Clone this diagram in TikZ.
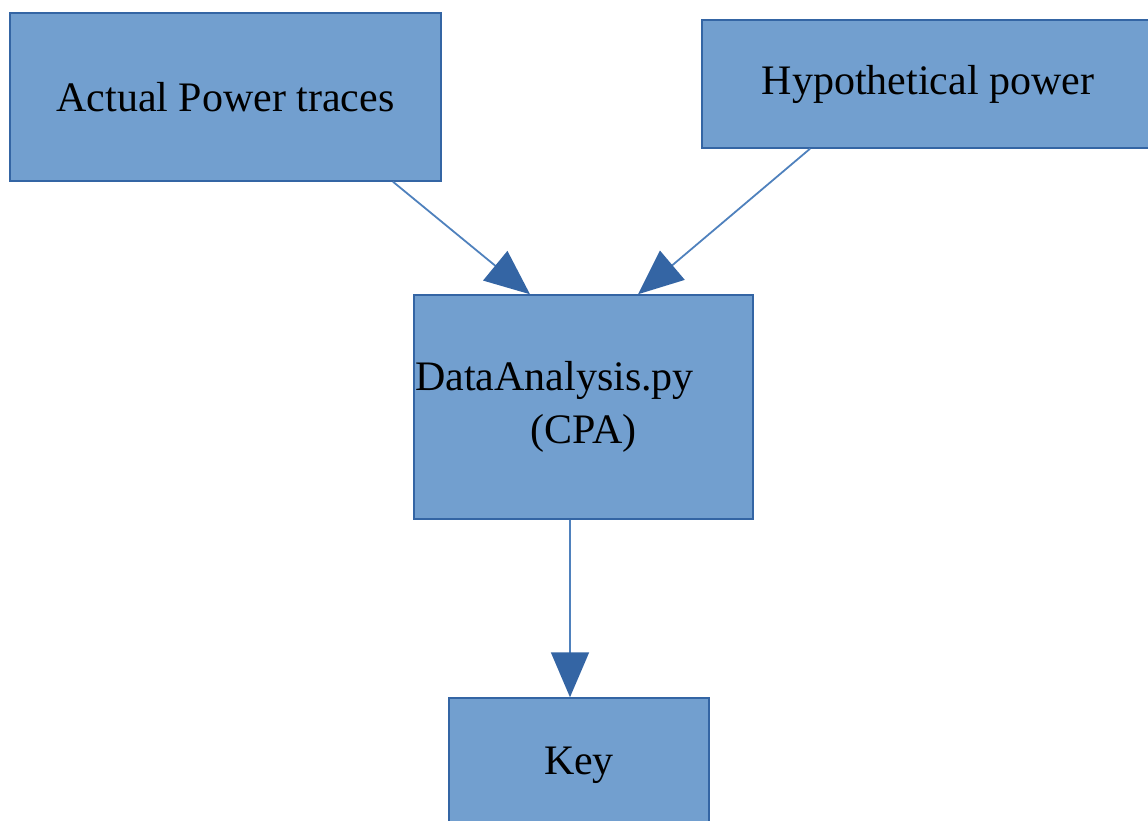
\documentclass[tikz,border=0pt]{standalone}
\usepackage{fontspec}
\setmainfont{Liberation Serif}
\usepackage{tikz}
\usetikzlibrary{arrows.meta}
\definecolor{boxfill}{HTML}{729FCF}
\definecolor{boxline}{HTML}{3465A4}
\definecolor{arrline}{HTML}{4F81BD}
\tikzstyle{block} = [draw=boxline, fill=boxfill, line width=1.5pt, rectangle, inner sep=0pt, font=\fontsize{42}{53}\selectfont]
\tikzstyle{flow} = [draw=arrline, line width=1.8pt, -{Triangle[length=45pt, width=38pt, color=boxline]}]

\begin{document}
\begin{tikzpicture}[x=1pt, y=-1pt]
    \useasboundingbox (0,0) rectangle (1148,820);
    \node[block, minimum width=431pt, minimum height=168pt] (actual) at (225.5,97) {Actual Power traces};
    \node[block, minimum width=452pt, minimum height=128pt] (hypo) at (928,84) {Hypothetical power};
    \node[block, minimum width=339pt, minimum height=224pt, align=center] (cpa) at (583.5,407) {DataAnalysis.py\hspace*{58pt}\\(CPA)};
    \node[block, minimum width=260pt, minimum height=134pt] (key) at (579,765) {Key};
    \draw[flow] ([xshift=167.5pt]actual.south) -- ([xshift=-53.5pt]cpa.north);
    \draw[flow] ([xshift=-118pt]hypo.south) -- ([xshift=54.5pt]cpa.north);
    \draw[flow] ([xshift=-13.5pt]cpa.south) -- ([xshift=-9pt]key.north);
\end{tikzpicture}
\end{document}
